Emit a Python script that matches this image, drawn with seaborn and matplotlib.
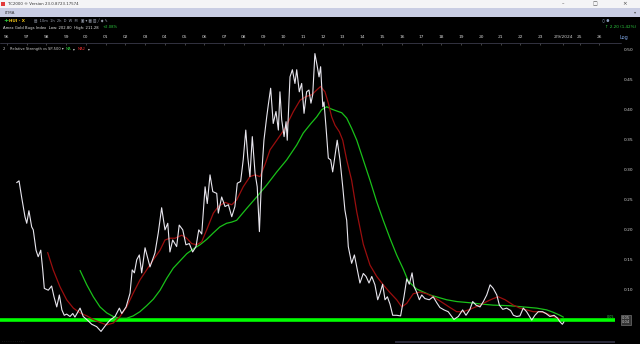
import matplotlib
matplotlib.use("Agg")
import matplotlib.pyplot as plt
from matplotlib.patches import Rectangle
import seaborn as sns
import pandas as pd

# ---------------- data ----------------
rs_year = [1996.49, 1996.61, 1996.74, 1996.91, 1997.00, 1997.11, 1997.25, 1997.33, 1997.47, 1997.58,
           1997.71, 1997.81, 1997.89, 1998.09, 1998.26, 1998.38, 1998.52, 1998.65, 1998.78, 1998.90,
           1999.02, 1999.19, 1999.33, 1999.44, 1999.70, 1999.86, 2000.07, 2000.29, 2000.54, 2000.76,
           2001.01, 2001.22, 2001.47, 2001.69, 2001.81, 2002.03, 2002.23, 2002.34, 2002.45, 2002.57,
           2002.70, 2002.82, 2002.99, 2003.24, 2003.49, 2003.66, 2003.83, 2004.00, 2004.14, 2004.25,
           2004.39, 2004.59, 2004.72, 2004.90, 2005.06, 2005.23, 2005.40, 2005.57, 2005.71, 2005.86,
           2006.03, 2006.14, 2006.28, 2006.42, 2006.62, 2006.70, 2006.87, 2007.04, 2007.21, 2007.38,
           2007.54, 2007.66, 2007.83, 2007.96, 2008.09, 2008.19, 2008.30, 2008.42, 2008.56, 2008.67,
           2008.78, 2008.90, 2009.01, 2009.15, 2009.23, 2009.35, 2009.48, 2009.62, 2009.74, 2009.82,
           2009.91, 2010.03, 2010.13, 2010.19, 2010.33, 2010.45, 2010.58, 2010.67, 2010.80, 2010.92,
           2011.04, 2011.17, 2011.29, 2011.39, 2011.48, 2011.59, 2011.68, 2011.80, 2011.88, 2011.99,
           2012.05, 2012.15, 2012.27, 2012.39, 2012.49, 2012.61, 2012.72, 2012.86, 2013.00, 2013.11,
           2013.20, 2013.28, 2013.45, 2013.59, 2013.71, 2013.87, 2014.04, 2014.18, 2014.33, 2014.47,
           2014.63, 2014.77, 2014.89, 2015.02, 2015.14, 2015.26, 2015.39, 2015.53, 2015.73, 2015.93,
           2016.10, 2016.24, 2016.37, 2016.51, 2016.61, 2016.74, 2016.88, 2017.00, 2017.16, 2017.38,
           2017.58, 2017.76, 2017.92, 2018.13, 2018.34, 2018.52, 2018.63, 2018.85, 2019.07, 2019.24,
           2019.44, 2019.58, 2019.75, 2019.95, 2020.12, 2020.29, 2020.46, 2020.62, 2020.80, 2020.93,
           2021.10, 2021.30, 2021.50, 2021.64, 2021.81, 2021.97, 2022.14, 2022.31, 2022.57, 2022.73,
           2022.90, 2023.12, 2023.29, 2023.49, 2023.70, 2023.88, 2024.00, 2024.12, 2024.20]
rs_value = [0.278, 0.281, 0.254, 0.221, 0.210, 0.231, 0.204, 0.199, 0.165, 0.154,
            0.165, 0.132, 0.101, 0.098, 0.105, 0.087, 0.070, 0.090, 0.065, 0.056,
            0.058, 0.054, 0.059, 0.053, 0.068, 0.054, 0.048, 0.041, 0.037, 0.029,
            0.040, 0.048, 0.054, 0.068, 0.059, 0.070, 0.093, 0.132, 0.127, 0.149,
            0.157, 0.127, 0.169, 0.137, 0.160, 0.194, 0.236, 0.199, 0.210, 0.162,
            0.182, 0.171, 0.207, 0.199, 0.174, 0.176, 0.162, 0.171, 0.199, 0.192,
            0.271, 0.243, 0.291, 0.263, 0.260, 0.227, 0.254, 0.238, 0.241, 0.221,
            0.238, 0.277, 0.280, 0.316, 0.366, 0.321, 0.288, 0.355, 0.294, 0.271,
            0.196, 0.294, 0.349, 0.388, 0.408, 0.436, 0.377, 0.397, 0.366, 0.430,
            0.383, 0.355, 0.380, 0.349, 0.455, 0.467, 0.444, 0.467, 0.430, 0.444,
            0.394, 0.430, 0.433, 0.411, 0.425, 0.494, 0.478, 0.455, 0.472, 0.405,
            0.413, 0.372, 0.319, 0.316, 0.296, 0.324, 0.349, 0.316, 0.271, 0.232,
            0.215, 0.171, 0.143, 0.157, 0.137, 0.110, 0.126, 0.121, 0.110, 0.121,
            0.107, 0.082, 0.093, 0.108, 0.082, 0.087, 0.075, 0.056, 0.056, 0.055,
            0.087, 0.117, 0.108, 0.127, 0.104, 0.095, 0.082, 0.090, 0.084, 0.082,
            0.087, 0.077, 0.069, 0.065, 0.062, 0.054, 0.049, 0.054, 0.065, 0.056,
            0.066, 0.079, 0.073, 0.070, 0.079, 0.090, 0.107, 0.101, 0.090, 0.073,
            0.066, 0.068, 0.064, 0.056, 0.054, 0.055, 0.068, 0.062, 0.048, 0.056,
            0.062, 0.062, 0.059, 0.054, 0.056, 0.051, 0.045, 0.041, 0.045]

ma_year = [1998.06, 1998.34, 1998.68, 1999.02, 1999.36, 1999.70, 2000.04, 2000.37, 2000.71, 2001.05,
           2001.38, 2001.72, 2002.06, 2002.39, 2002.73, 2003.07, 2003.41, 2003.75, 2004.00, 2004.25,
           2004.51, 2004.85, 2005.10, 2005.35, 2005.61, 2005.86, 2006.11, 2006.45, 2006.70, 2007.04,
           2007.38, 2007.63, 2007.96, 2008.30, 2008.56, 2008.81, 2009.06, 2009.32, 2009.66, 2010.08,
           2010.50, 2010.84, 2011.14, 2011.43, 2011.68, 2011.88, 2012.10, 2012.27, 2012.44, 2012.61,
           2012.83, 2013.00, 2013.20, 2013.45, 2013.71, 2014.04, 2014.38, 2014.72, 2015.05, 2015.39,
           2015.73, 2015.99, 2016.24, 2016.57, 2016.91, 2017.25, 2017.58, 2017.92, 2018.43, 2018.77,
           2019.10, 2019.44, 2019.95, 2020.29, 2020.62, 2020.88, 2021.22, 2021.64, 2021.97, 2022.31,
           2022.65, 2022.99, 2023.33, 2023.66, 2024.00]
ma_value = [0.161, 0.132, 0.104, 0.082, 0.068, 0.060, 0.055, 0.049, 0.044, 0.040,
            0.043, 0.054, 0.070, 0.093, 0.115, 0.132, 0.149, 0.165, 0.182, 0.185,
            0.185, 0.190, 0.185, 0.176, 0.174, 0.179, 0.199, 0.227, 0.238, 0.245,
            0.241, 0.249, 0.271, 0.288, 0.291, 0.288, 0.308, 0.333, 0.349, 0.369,
            0.397, 0.416, 0.422, 0.425, 0.433, 0.439, 0.430, 0.411, 0.388, 0.374,
            0.363, 0.349, 0.316, 0.282, 0.229, 0.175, 0.140, 0.121, 0.107, 0.094,
            0.082, 0.070, 0.076, 0.092, 0.095, 0.092, 0.087, 0.080, 0.069, 0.062,
            0.062, 0.066, 0.073, 0.079, 0.084, 0.087, 0.082, 0.073, 0.068, 0.065,
            0.062, 0.062, 0.059, 0.054, 0.050]

ma2_year = [1999.70, 2000.04, 2000.37, 2000.71, 2001.05, 2001.38, 2001.72, 2002.06, 2002.39, 2002.73,
            2003.07, 2003.41, 2003.75, 2004.09, 2004.42, 2004.76, 2005.10, 2005.43, 2005.77, 2006.11,
            2006.45, 2006.78, 2007.12, 2007.38, 2007.63, 2008.14, 2008.64, 2009.15, 2009.66, 2010.16,
            2010.67, 2011.00, 2011.39, 2011.68, 2011.93, 2012.19, 2012.44, 2012.69, 2012.95, 2013.20,
            2013.45, 2013.71, 2014.04, 2014.38, 2014.72, 2015.05, 2015.39, 2015.73, 2016.07, 2016.32,
            2016.74, 2017.42, 2018.26, 2018.77, 2019.44, 2019.95, 2020.62, 2021.47, 2022.14, 2022.82,
            2023.33, 2023.66, 2024.00, 2024.17]
ma2_value = [0.131, 0.107, 0.087, 0.070, 0.060, 0.054, 0.051, 0.051, 0.055, 0.062,
             0.072, 0.083, 0.098, 0.118, 0.135, 0.147, 0.159, 0.167, 0.174, 0.183,
             0.194, 0.204, 0.210, 0.212, 0.215, 0.235, 0.254, 0.274, 0.296, 0.316,
             0.341, 0.361, 0.377, 0.388, 0.400, 0.405, 0.401, 0.398, 0.395, 0.386,
             0.369, 0.349, 0.316, 0.282, 0.246, 0.215, 0.185, 0.157, 0.133, 0.113,
             0.100, 0.090, 0.082, 0.079, 0.077, 0.075, 0.073, 0.072, 0.070, 0.068,
             0.065, 0.061, 0.056, 0.053]

ref_level = 0.048
year_ticks = list(range(1996, 2027))
year_labels = [("%02d" % (y % 100)) for y in year_ticks]
date_label = "2/9/2024"
date_pos = 2024.15
y_ticks = [0.10, 0.15, 0.20, 0.25, 0.30, 0.35, 0.40, 0.45, 0.50]

# ---------------- figure ----------------
sns.set_theme(style="dark")
plt.rcParams["font.family"] = ["DejaVu Sans"]
W, H = 640, 344
fig = plt.figure(figsize=(W / 100, H / 100), dpi=100, facecolor="black")

def fy(py):
    return 1 - py / H

def fx(px):
    return px / W

# top window bars
fig.patches.append(Rectangle((0, fy(8)), 1, 8 / H, transform=fig.transFigure,
                             facecolor="#f4f4f6", edgecolor="none", zorder=0))
fig.patches.append(Rectangle((0, fy(17)), 1, 9 / H, transform=fig.transFigure,
                             facecolor="#c9cde3", edgecolor="none", zorder=0))
fig.patches.append(Rectangle((fx(1), fy(6)), 4 / W, 4 / H, transform=fig.transFigure,
                             facecolor="#e23b3b", edgecolor="none", zorder=1))
fig.text(fx(8), fy(3.8), "TC2000 \u00ae Version 23.0.8723.17574", fontsize=2.8,
         color="#333333", va="center", ha="left")
fig.text(fx(562), fy(3.8), "\u2013", fontsize=3.5, color="#444444", va="center")
fig.text(fx(593), fy(3.8), "\u25a1", fontsize=3.5, color="#444444", va="center")
fig.text(fx(622), fy(3.8), "\u00d7", fontsize=4, color="#444444", va="center")
fig.text(fx(5), fy(12.5), "LTMA", fontsize=3, color="#333333", va="center")
fig.text(fx(634), fy(12.5), "\u25be", fontsize=3, color="#555555", va="center")

# toolbar / header rows
fig.text(fx(3), fy(20.5), "+", fontsize=4.5, color="#2ecc40", va="center", weight="bold")
fig.text(fx(9), fy(20.5), "HUI - X", fontsize=3, color="#f0c419", va="center", weight="bold")
fig.text(fx(34), fy(20.5), "\u25a4  10m  1h  2h  D  W  M   \u25a3 \u25be \u25a6 \u25a7 \u2571 \u25c6 \u270e",
         fontsize=2.6, color="#9aa0b0", va="center")
fig.text(fx(3), fy(27.5), "Amex Gold Bugs Index  Low: 202.80  High: 211.28",
         fontsize=2.7, color="#e6e6e6", va="center")
fig.text(fx(103), fy(27.5), "+2.08%", fontsize=2.7, color="#2ecc40", va="center")
fig.text(fx(605), fy(27.5), "\u2191 2.20 (1.42%)", fontsize=3, color="#2ecc40", va="center")
fig.text(fx(602), fy(20), "\u25cb \u25cf", fontsize=2.6, color="#8899bb", va="center")
fig.text(fx(619), fy(37.5), "Log", fontsize=3.6, color="#7fa7e6", va="center")

# ---------------- main chart ----------------
x0 = 1995.646
x1 = 2026.785
ax = fig.add_axes([0, fy(338), fx(615), (338 - 43) / H])
ax.set_facecolor("black")
ax.set_xlim(x0, x1)
ax.set_ylim(0.018, 0.5117)

rs = pd.DataFrame({"year": rs_year, "value": rs_value})
ma = pd.DataFrame({"year": ma_year, "value": ma_value})
ma2 = pd.DataFrame({"year": ma2_year, "value": ma2_value})

ax.axhline(ref_level, color="#00ff00", lw=2.6, zorder=1)
sns.lineplot(data=ma2, x="year", y="value", ax=ax, color="#19c119", lw=0.9, sort=False, zorder=2)
sns.lineplot(data=ma, x="year", y="value", ax=ax, color="#9a0e0e", lw=0.9, sort=False, zorder=3)
sns.lineplot(data=rs, x="year", y="value", ax=ax, color="#e8e6ee", lw=0.8, sort=False, zorder=4)

ax.set_xlabel("")
ax.set_ylabel("")
ax.grid(False)
for s in ax.spines.values():
    s.set_visible(False)
ax.plot([0, 1.01], [1, 1], transform=ax.transAxes, color="#3a3a4a", lw=0.6, clip_on=False)

# top year axis
ticks = [y for y in year_ticks if y != 2024] + [date_pos]
labels = [l for y, l in zip(year_ticks, year_labels) if y != 2024] + [date_label]
ax.xaxis.tick_top()
ax.set_xticks(ticks)
ax.set_xticklabels(labels)
ax.tick_params(axis="x", colors="#cfcfcf", labelsize=3.2, length=1.2, width=0.4, pad=3,
               direction="in", color="#777777")

# right value axis
ax.yaxis.tick_right()
ax.set_yticks(y_ticks)
ax.set_yticklabels(["%.2f" % v for v in y_ticks])
ax.tick_params(axis="y", colors="#d0d0d0", labelsize=3.2, length=0, pad=6)
for lab in ax.get_yticklabels():
    lab.set_horizontalalignment("left")

# legend row
leg_y = fy(49)
fig.text(fx(3), leg_y, "2", fontsize=2.6, color="#cfcfcf", va="center")
fig.text(fx(10), leg_y, "Relative Strength vs SP-500 \u25be", fontsize=2.6, color="#cfcfcf", va="center")
fig.text(fx(66), leg_y, "MA", fontsize=2.6, color="#2ecc40", va="center")
fig.text(fx(73), leg_y, "\u25be", fontsize=2.6, color="#cfcfcf", va="center")
fig.text(fx(78), leg_y, "MA2", fontsize=2.6, color="#e03030", va="center")
fig.text(fx(88), leg_y, "\u25be", fontsize=2.6, color="#cfcfcf", va="center")

# current-value labels on the right
fig.text(fx(607), fy(317), "0.05", fontsize=2.4, color="#2ecc40", va="center")
fig.text(fx(622), fy(320), "0.05\n0.04", fontsize=2.6, color="#d0d0d0", va="center",
         linespacing=0.9, bbox=dict(boxstyle="square,pad=0.2", fc="#333333", ec="#888888", lw=0.4))

# bottom dotted strip
fig.text(fx(2), fy(341.5), "- - - - - - - - - - -", fontsize=2.2, color="#555555", va="center")
fig.patches.append(Rectangle((fx(395), fy(343)), 220 / W, 2 / H, transform=fig.transFigure,
                             facecolor="#2a2a3a", edgecolor="none", zorder=0))

fig.savefig("out.png", dpi=100, facecolor="black")
